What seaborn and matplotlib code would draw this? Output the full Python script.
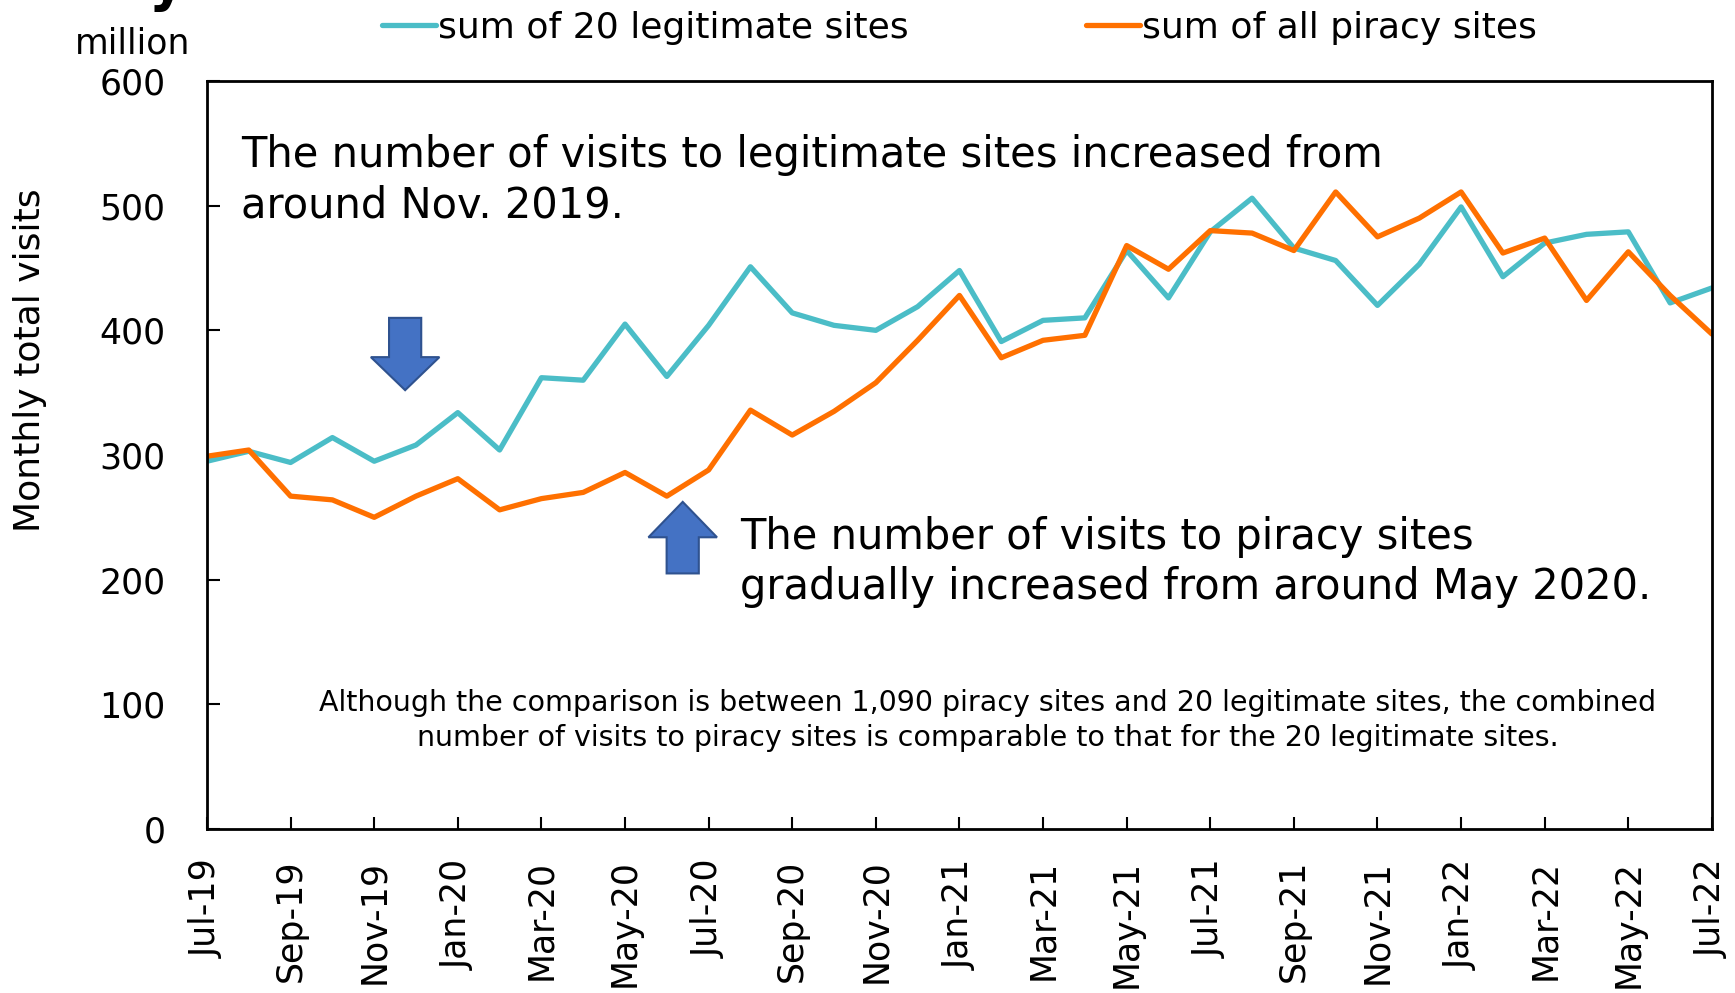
import matplotlib
matplotlib.use("Agg")
import matplotlib.pyplot as plt
import seaborn as sns
import pandas as pd
from matplotlib.patches import Polygon

months = ["Jul-19", "Aug-19", "Sep-19", "Oct-19", "Nov-19", "Dec-19",
          "Jan-20", "Feb-20", "Mar-20", "Apr-20", "May-20", "Jun-20",
          "Jul-20", "Aug-20", "Sep-20", "Oct-20", "Nov-20", "Dec-20",
          "Jan-21", "Feb-21", "Mar-21", "Apr-21", "May-21", "Jun-21",
          "Jul-21", "Aug-21", "Sep-21", "Oct-21", "Nov-21", "Dec-21",
          "Jan-22", "Feb-22", "Mar-22", "Apr-22", "May-22", "Jun-22",
          "Jul-22"]
legit = [295, 303, 294, 314, 295, 308, 334, 304, 362, 360, 405, 363,
         404, 451, 414, 404, 400, 419, 448, 391, 408, 410, 464, 426,
         479, 506, 466, 456, 420, 453, 499, 443, 470, 477, 479, 422, 434]
piracy = [299, 304, 267, 264, 250, 267, 281, 256, 265, 270, 286, 267,
          288, 336, 316, 335, 358, 392, 428, 378, 392, 396, 468, 449,
          480, 478, 464, 511, 475, 490, 511, 462, 474, 424, 463, 428, 397]
series_names = ["sum of 20 legitimate sites", "sum of all piracy sites"]
colors = ["#4BBDC7", "#FF7000"]
y_ticks = [0, 100, 200, 300, 400, 500, 600]

sns.set_style("ticks")
plt.rcParams["font.family"] = ["DejaVu Sans"]
plt.rcParams["text.color"] = "black"

df = pd.DataFrame({
    "idx": list(range(len(months))) * 2,
    "value": legit + piracy,
    "series": [series_names[0]] * len(months) + [series_names[1]] * len(months),
})

fig = plt.figure(figsize=(17.35, 9.93), dpi=100)
ax = fig.add_axes([0.1193, 0.16516, 0.8674, 0.75327])

sns.lineplot(data=df, x="idx", y="value", hue="series", hue_order=series_names,
             palette=dict(zip(series_names, colors)), linewidth=3.8, ax=ax,
             legend=True)

ax.set_xlim(0, len(months) - 1)
ax.set_ylim(0, 600)
ax.set_yticks(y_ticks)
ax.set_yticklabels([str(v) for v in y_ticks])
xt = list(range(0, len(months), 2))
ax.set_xticks(xt)
ax.set_xticklabels([months[i] for i in xt], rotation=90)
ax.set_xlabel("")
ax.set_ylabel("")
for s in ax.spines.values():
    s.set_color("black")
    s.set_linewidth(2.0)
    s.set_visible(True)
ax.tick_params(axis="x", direction="in", length=9, width=1.5, pad=22,
               labelsize=25, colors="black")
ax.tick_params(axis="y", direction="in", length=9, width=1.5, pad=30,
               labelsize=25, colors="black")

handles, labels = ax.get_legend_handles_labels()
leg = ax.legend(handles, labels, loc="center left",
                bbox_to_anchor=(382 / 1735, 1 - 28 / 993),
                bbox_transform=fig.transFigure, ncol=2, frameon=False,
                fontsize=26, handlelength=1.5, handletextpad=0.05,
                columnspacing=4.9, borderpad=0, borderaxespad=0,
                labelcolor="black")

# arrows
arrow_color = "#4472C4"
edge_color = "#2F528F"
def arrow(xc, y_tail, y_head_base, y_tip, half_shaft=0.385, half_head=0.82):
    pts = [(xc - half_shaft, y_tail), (xc + half_shaft, y_tail),
           (xc + half_shaft, y_head_base), (xc + half_head, y_head_base),
           (xc, y_tip), (xc - half_head, y_head_base),
           (xc - half_shaft, y_head_base)]
    ax.add_patch(Polygon(pts, closed=True, facecolor=arrow_color,
                         edgecolor=edge_color, linewidth=1.5, zorder=5))

arrow(4.74, 410, 378.5, 352)
arrow(11.38, 205, 234, 262.4)

# annotations (baseline of last line)
fig.text(241 / 1735, 1 - 217 / 993,
         "The number of visits to legitimate sites increased from\naround Nov. 2019.",
         fontsize=30, ha="left", va="baseline", color="black", linespacing=1.25)
fig.text(740 / 1735, 1 - 599 / 993,
         "The number of visits to piracy sites\ngradually increased from around May 2020.",
         fontsize=30, ha="left", va="baseline", color="black", linespacing=1.25)
fig.text(988 / 1735, 1 - 746 / 993,
         "Although the comparison is between 1,090 piracy sites and 20 legitimate sites, the combined\n"
         "number of visits to piracy sites is comparable to that for the 20 legitimate sites.",
         fontsize=20.5, ha="center", va="baseline", color="black",
         multialignment="center", linespacing=1.3)

fig.text(30 / 1735, 1 - 360 / 993, "Monthly total visits", rotation=90,
         fontsize=26, ha="center", va="center", color="black")
fig.text(133 / 1735, 1 - 44 / 993, "million", fontsize=25, ha="center",
         va="center", color="black")
fig.text(148 / 1735, 1.0, "y", fontsize=40, fontweight="bold",
         ha="left", va="baseline", color="black")

fig.savefig("out.png", dpi=100)
